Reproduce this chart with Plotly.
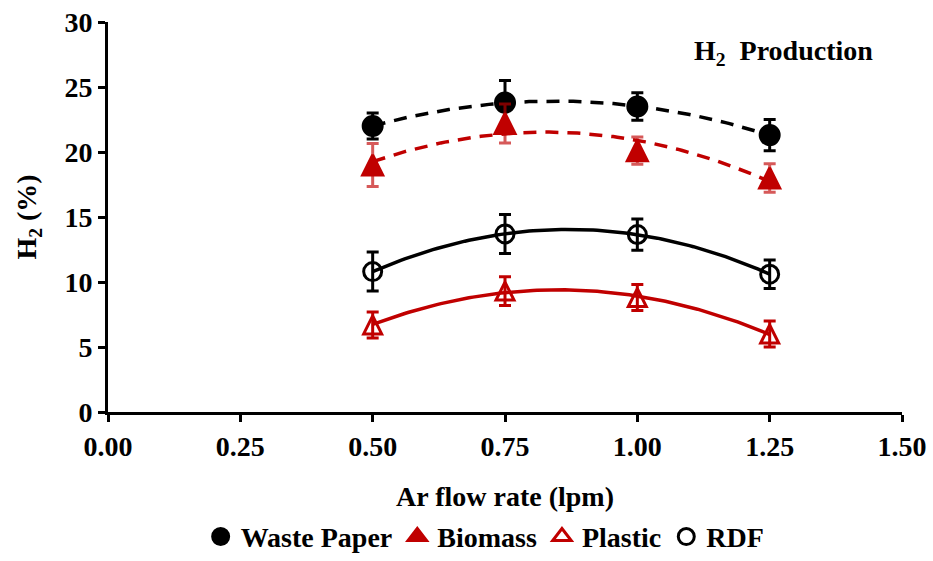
import numpy as np
import plotly.graph_objects as go

# Ar flow rate (lpm)
flow = [0.50, 0.75, 1.00, 1.25]

# H2 content (%) and standard deviations for each feedstock
waste_paper = [22.0, 23.8, 23.5, 21.3]
waste_paper_err = [1.0, 1.7, 1.05, 1.2]

biomass = [19.0, 22.2, 20.1, 18.0]
biomass_err = [1.65, 1.5, 1.05, 1.1]

plastic = [6.7, 9.3, 8.8, 6.0]
plastic_err = [1.0, 1.1, 1.0, 1.0]

rdf = [10.8, 13.7, 13.65, 10.6]
rdf_err = [1.5, 1.5, 1.2, 1.1]

x_ticks = [0.0, 0.25, 0.5, 0.75, 1.0, 1.25, 1.5]
y_ticks = [0, 5, 10, 15, 20, 25, 30]

RED = "#C00000"
FAMILY = "Liberation Serif, Times New Roman, serif"
FONT = dict(family=FAMILY, size=28, color="black", weight="bold")

fig = go.Figure()


def trend(xs, ys):
    # second-order polynomial trendline over the measured range
    coef = np.polyfit(xs, ys, 2)
    xf = np.linspace(min(xs), max(xs), 100)
    return xf, np.polyval(coef, xf)


trend_styles = [
    (waste_paper, "black", "13px,9px"),
    (biomass, RED, "13px,9px"),
    (rdf, "black", "solid"),
    (plastic, RED, "solid"),
]
for ys, col, dash in trend_styles:
    xf, yf = trend(flow, ys)
    fig.add_trace(go.Scatter(x=xf, y=yf, mode="lines", showlegend=False,
                             hoverinfo="skip",
                             line=dict(color=col, width=3.5, dash=dash)))

# tall triangles: arrow-down turned upright, shifted so the point sits mid-height
TRI = 20
series = [
    ("Waste Paper", waste_paper, waste_paper_err, "circle", 19, 0, 0, "black", "black", "circle"),
    ("Biomass", biomass, biomass_err, "arrow-down", TRI, TRI / 2, 180, RED,
     "rgba(192,0,0,0.65)", "triangle-up"),
    ("Plastic", plastic, plastic_err, "arrow-down-open", TRI - 2, (TRI - 2) / 2, 180, RED,
     RED, "triangle-up-open"),
    ("RDF", rdf, rdf_err, "circle-open", 18, 0, 0, "black", "black", "circle-open"),
]
for name, ys, err, sym, size, off, ang, col, ecol, legsym in series:
    fig.add_trace(go.Scatter(
        x=flow, y=ys, mode="markers", name=name, showlegend=False,
        marker=dict(symbol=sym, size=size, standoff=off, angle=ang, color=col,
                    line=dict(color=col, width=3)),
        error_y=dict(type="data", array=err, visible=True,
                     color=ecol, thickness=3, width=6),
    ))
    # legend entry
    fig.add_trace(go.Scatter(
        x=[None], y=[None], mode="markers", name=name, showlegend=True,
        marker=dict(symbol=legsym, size=16, color=col,
                    line=dict(color=col, width=3)),
    ))

fig.add_annotation(
    x=0.851, y=0.923, xref="paper", yref="paper",
    xanchor="center", yanchor="middle",
    text="H<sub>2</sub>  Production", showarrow=False,
    font=dict(family=FAMILY, size=28, color="black", weight="bold"),
)

fig.update_layout(
    width=933, height=561,
    margin=dict(l=108, r=31, t=22, b=149),
    paper_bgcolor="white", plot_bgcolor="white",
    font=FONT,
    showlegend=True,
    legend=dict(orientation="h", x=0.475, xanchor="center",
                yref="container", y=0.043, yanchor="middle",
                font=FONT, itemwidth=30, tracegroupgap=0,
                bgcolor="rgba(0,0,0,0)"),
    xaxis=dict(
        range=[0, 1.5], tickvals=x_ticks, tickformat=".2f",
        showgrid=False, zeroline=False,
        showline=True, linecolor="black", linewidth=3,
        ticks="outside", ticklen=7, tickwidth=3, tickcolor="black",
        tickfont=FONT, automargin=False,
        title=dict(text="Ar flow rate (lpm)", font=FONT, standoff=27),
    ),
    yaxis=dict(
        range=[0, 30], tickvals=y_ticks,
        showgrid=False, zeroline=False,
        showline=True, linecolor="black", linewidth=3,
        ticks="outside", ticklen=7, tickwidth=3, tickcolor="black",
        tickfont=FONT, automargin=False,
        title=dict(text="H<sub>2</sub> (%)", font=FONT, standoff=20),
    ),
)

fig.write_html("out.html")
